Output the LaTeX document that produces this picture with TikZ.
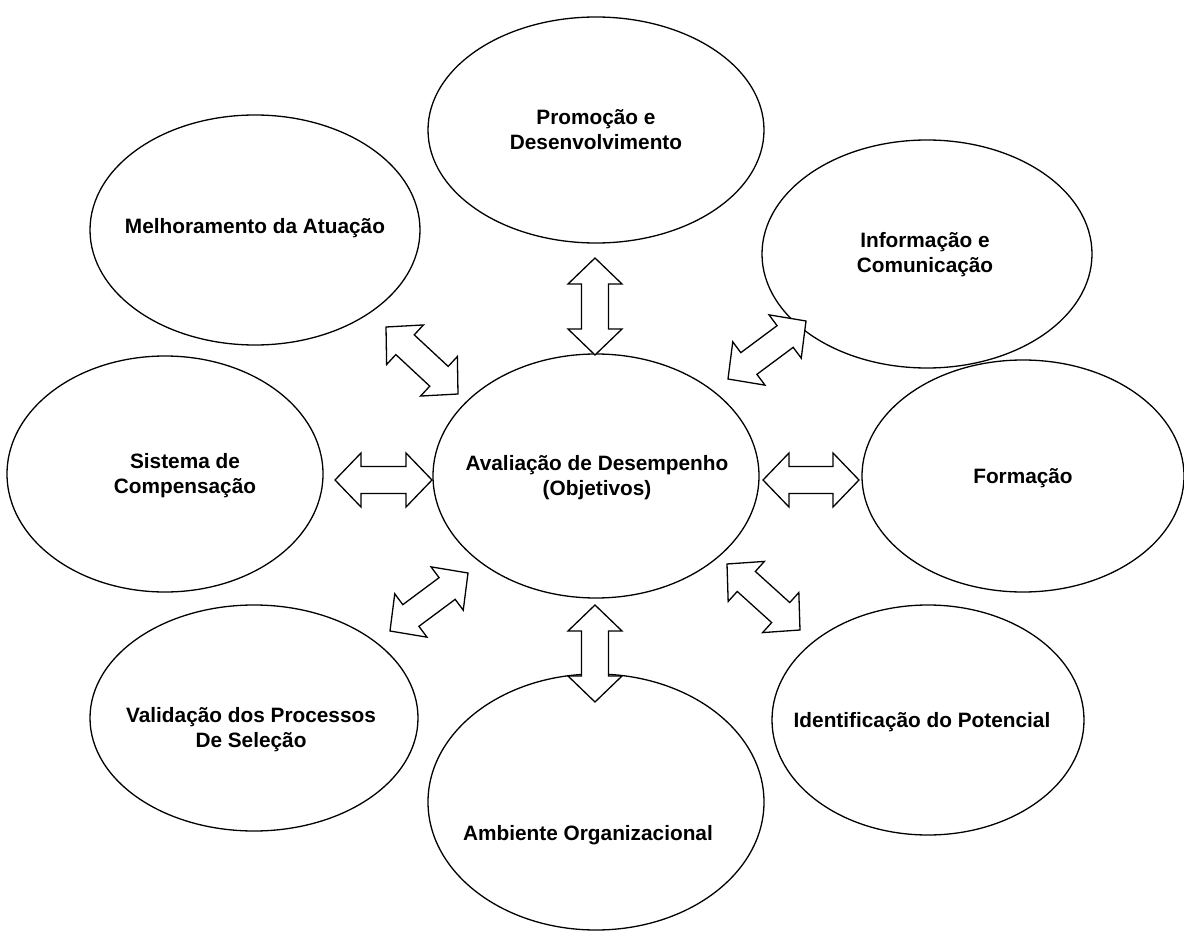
\documentclass[tikz,border=0pt]{standalone}
\usepackage{fontspec}
\setmainfont{Liberation Sans}
\usetikzlibrary{shapes.geometric,calc}
\tikzset{
  ell/.style={draw=black, line width=1.3pt, ellipse, inner sep=0pt},
  lbl/.style={align=center, font=\fontsize{20.8}{25}\selectfont\bfseries, inner sep=0pt},
  blk/.style={draw=black, line width=1.3pt, fill=white, line join=miter}
}
\newcommand\dblarrow[2]{%
  \path ($(#1)!26pt!(#2)$) coordinate (h1) ($(#2)!26pt!(#1)$) coordinate (h2);
  \draw[blk] (#1) -- ($(h1)!27pt!90:(#2)$) -- ($(h1)!13.5pt!90:(#2)$)
    -- ($(h2)!13.5pt!-90:(#1)$) -- ($(h2)!27pt!-90:(#1)$) -- (#2)
    -- ($(h2)!27pt!90:(#1)$) -- ($(h2)!13.5pt!90:(#1)$)
    -- ($(h1)!13.5pt!-90:(#2)$) -- ($(h1)!27pt!-90:(#2)$) -- cycle;}
\begin{document}
\begin{tikzpicture}[x=1pt,y=-1pt]
\useasboundingbox[fill=white] (0,0) rectangle (1184,952);
% ellipses
\node[ell, minimum width=326pt, minimum height=244pt] (c)  at (596,476) {};
\node[ell, minimum width=336pt, minimum height=226pt] (t)  at (596,130) {};
\node[ell, minimum width=330pt, minimum height=230pt] (tl) at (255,230) {};
\node[ell, minimum width=330pt, minimum height=228pt] (tr) at (927,254) {};
\node[ell, minimum width=316pt, minimum height=236pt] (l)  at (165,474) {};
\node[ell, minimum width=322pt, minimum height=232pt] (r)  at (1023,476) {};
\node[ell, minimum width=328pt, minimum height=226pt] (bl) at (254,718) {};
\node[ell, minimum width=336pt, minimum height=256pt] (b)  at (596,802) {};
\node[ell, minimum width=312pt, minimum height=230pt] (br) at (928,720) {};
% labels
\node[lbl] (tc)  at (597,478) {Avaliação de Desempenho\\(Objetivos)};
\node[lbl] (tt)  at (596,130) {Promoção e\\Desenvolvimento};
\node[lbl] (ttl) at (255,228) {Melhoramento da Atuação};
\node[lbl] (ttr) at (925,255) {Informação e\\Comunicação};
\node[lbl] (tl2) at (185,476) {Sistema de\\Compensação};
\node[lbl] (tr2) at (1023,478) {Formação};
\node[lbl] (tbl) at (251,730) {Validação dos Processos\\De Seleção};
\node[lbl] (tb)  at (588,835) {Ambiente Organizacional};
\node[lbl] (tbr) at (922,722) {Identificação do Potencial};
% arrow tips
\coordinate (a1) at (595,258); \coordinate (b1) at (595,355);
\coordinate (a2) at (595,605); \coordinate (b2) at (595,702);
\coordinate (a3) at (335,480); \coordinate (b3) at (432,480);
\coordinate (a4) at (763,480); \coordinate (b4) at (859,480);
\coordinate (a5) at (386,327); \coordinate (b5) at (458,394);
\coordinate (a6) at (728,379); \coordinate (b6) at (806,321);
\coordinate (a7) at (390,631); \coordinate (b7) at (468,573);
\coordinate (a8) at (727,564); \coordinate (b8) at (800,630);
\dblarrow{a1}{b1}
\dblarrow{a2}{b2}
\dblarrow{a3}{b3}
\dblarrow{a4}{b4}
\dblarrow{a5}{b5}
\dblarrow{a6}{b6}
\dblarrow{a7}{b7}
\dblarrow{a8}{b8}
\end{tikzpicture}
\end{document}
